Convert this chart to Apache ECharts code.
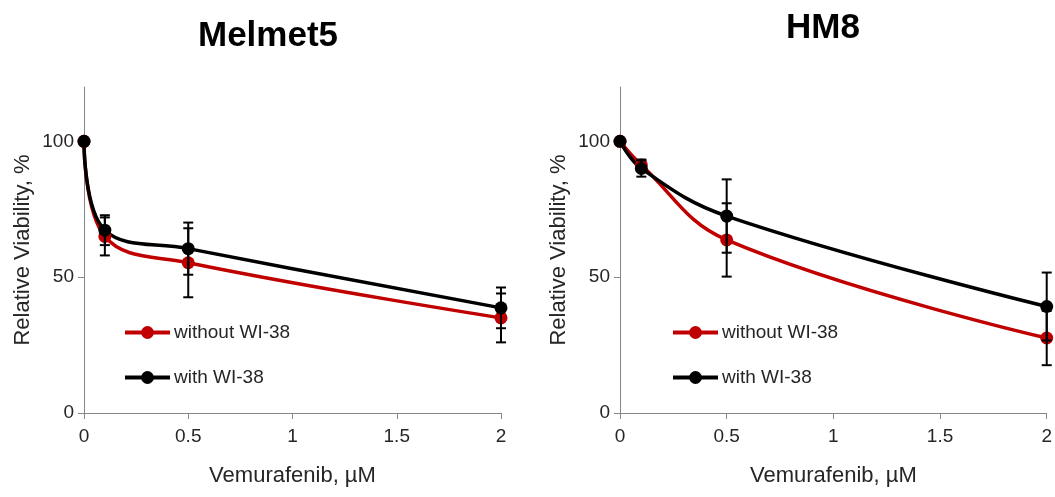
<!DOCTYPE html>
<html>
<head>
<meta charset="utf-8">
<script src="https://cdn.jsdelivr.net/npm/echarts@6/dist/echarts.min.js"></script>
<style>html,body{margin:0;padding:0;background:#fff}#main{width:1055px;height:497px}</style>
</head>
<body>
<div id="main"></div>
<script>
// doses (uM) and viability (%)
var doses = [0, 0.1, 0.5, 2];
var melWithout = [100, 65, 55.3, 35];
var melWith = [100, 67.3, 60.5, 38.7];
var melWithoutErr = [0, 7, 12.7, 9];
var melWithErr = [0, 5.5, 9.6, 7.5];
var hmWithout = [100, 91.3, 63.7, 27.6];
var hmWith = [100, 90, 72.5, 39.2];
var hmWithoutErr = [0, 2, 13.5, 10];
var hmWithErr = [0, 3, 13.5, 12.5];
var xTicks = [0, 0.5, 1, 1.5, 2];
var yTicks = [0, 50, 100];

var RED = '#c00000';
var FONT = 'Liberation Sans';

function pairs(vals) {
    return doses.map(function (d, i) { return [d, vals[i]]; });
}
function errData(vals, errs) {
    var out = [];
    for (var i = 0; i < doses.length; i++) {
        if (errs[i] > 0) out.push([doses[i], vals[i] - errs[i], vals[i] + errs[i]]);
    }
    return out;
}
function errItem(params, api) {
    var x = api.value(0);
    var top = api.coord([x, api.value(2)]);
    var bot = api.coord([x, api.value(1)]);
    var w = 5;
    var st = { stroke: '#000', lineWidth: 2 };
    return {
        type: 'group',
        children: [
            { type: 'line', shape: { x1: top[0], y1: top[1], x2: bot[0], y2: bot[1] }, style: st },
            { type: 'line', shape: { x1: top[0] - w, y1: top[1], x2: top[0] + w, y2: top[1] }, style: st },
            { type: 'line', shape: { x1: bot[0] - w, y1: bot[1], x2: bot[0] + w, y2: bot[1] }, style: st }
        ]
    };
}

function xAxisOpt(idx) {
    return {
        type: 'value', gridIndex: idx, min: 0, max: 2, interval: 0.5,
        name: 'Vemurafenib, µM', nameLocation: 'middle', nameGap: 52,
        nameTextStyle: { fontFamily: FONT, fontSize: 22, color: '#262626' },
        axisLine: { lineStyle: { color: '#868686', width: 1 } },
        axisTick: { show: true, inside: false, length: 6, lineStyle: { color: '#868686' },
                    customValues: xTicks },
        axisLabel: { fontFamily: FONT, fontSize: 19, color: '#262626', margin: 14,
                     customValues: xTicks },
        splitLine: { show: false }
    };
}
function yAxisOpt(idx) {
    return {
        type: 'value', gridIndex: idx, min: 0, max: 120, interval: 50,
        name: 'Relative Viability, %', nameLocation: 'middle', nameGap: 50,
        nameTextStyle: { fontFamily: FONT, fontSize: 22, color: '#262626' },
        axisLine: { show: true, lineStyle: { color: '#868686', width: 1 } },
        axisTick: { show: true, inside: false, length: 6, lineStyle: { color: '#868686' },
                    customValues: yTicks },
        axisLabel: { fontFamily: FONT, fontSize: 19, color: '#262626', margin: 10,
                     customValues: yTicks },
        splitLine: { show: false }
    };
}
function lineSeries(name, idx, vals, color) {
    return {
        name: name, type: 'line', xAxisIndex: idx, yAxisIndex: idx,
        data: pairs(vals), smooth: 0.4,
        symbol: 'circle', symbolSize: 13,
        lineStyle: { color: color, width: 3.5 },
        itemStyle: { color: color },
        z: 3
    };
}
function errSeries(idx, vals, errs) {
    return {
        type: 'custom', xAxisIndex: idx, yAxisIndex: idx,
        renderItem: errItem, data: errData(vals, errs),
        encode: { x: 0, y: [1, 2] }, z: 4, silent: true
    };
}
function legendOpt(left) {
    return {
        orient: 'vertical', left: left, top: 318, itemGap: 26,
        itemWidth: 45, itemHeight: 16,
        data: ['without WI-38', 'with WI-38'],
        lineStyle: { width: 4 },
        textStyle: { fontFamily: FONT, fontSize: 19, color: '#262626', padding: [0, 0, 0, -1] }
    };
}

var myChart = echarts.init(document.getElementById('main'));
myChart.setOption({
    animation: false,
    title: [
        { text: 'Melmet5', left: 263, top: 14, textAlign: 'center',
          textStyle: { fontFamily: FONT, fontSize: 35, fontWeight: 'bold', color: '#000' } },
        { text: 'HM8', left: 818, top: 6, textAlign: 'center',
          textStyle: { fontFamily: FONT, fontSize: 35, fontWeight: 'bold', color: '#000' } }
    ],
    grid: [
        { left: 84, right: 554, top: 87, bottom: 84 },
        { left: 620, right: 6, top: 87, bottom: 84 }
    ],
    legend: [legendOpt(118), legendOpt(666)],
    xAxis: [xAxisOpt(0), xAxisOpt(1)],
    yAxis: [yAxisOpt(0), yAxisOpt(1)],
    series: [
        lineSeries('without WI-38', 0, melWithout, RED),
        lineSeries('with WI-38', 0, melWith, '#000'),
        errSeries(0, melWithout, melWithoutErr),
        errSeries(0, melWith, melWithErr),
        lineSeries('without WI-38', 1, hmWithout, RED),
        lineSeries('with WI-38', 1, hmWith, '#000'),
        errSeries(1, hmWithout, hmWithoutErr),
        errSeries(1, hmWith, hmWithErr)
    ]
});
</script>
</body>
</html>
